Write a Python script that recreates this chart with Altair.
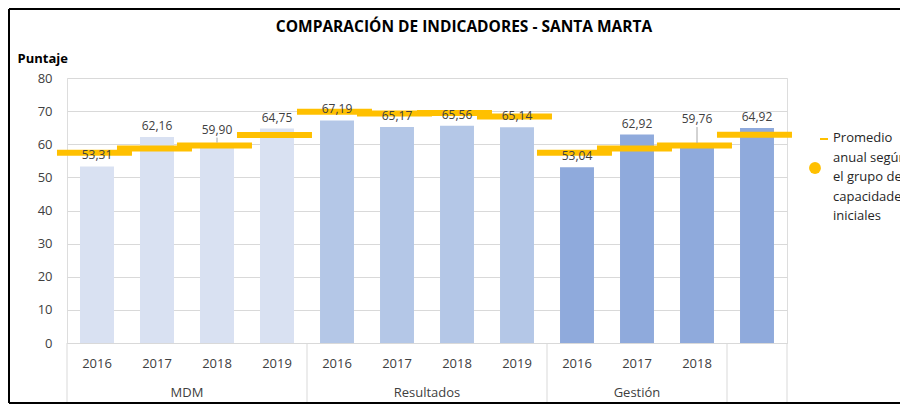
import altair as alt
import pandas as pd

# ---------------- data ----------------
groups = ["MDM"] * 4 + ["Resultados"] * 4 + ["Gestión"] * 4
years = ["2016", "2017", "2018", "2019",
         "2016", "2017", "2018", "2019",
         "2016", "2017", "2018", ""]
scores = [53.31, 62.16, 59.90, 64.75,
          67.19, 65.17, 65.56, 65.14,
          53.04, 62.92, 59.76, 64.92]
averages = [57.4, 58.7, 59.6, 62.8,
            69.8, 69.3, 69.4, 68.4,
            57.4, 58.7, 59.6, 62.9]
bracket_names = ["MDM", "Resultados", "Gestión", ""]
bracket_start = [0, 4, 8, 11]
bracket_end = [4, 8, 11, 12]
legend_lines = ["Promedio", "anual según", "el grupo de", "capacidades", "iniciales"]
title_text = "COMPARACIÓN DE INDICADORES - SANTA MARTA"
y_title = "Puntaje"
y_ticks = [0, 10, 20, 30, 40, 50, 60, 70, 80]

# styling
group_colors = ["#D9E1F2", "#B4C7E7", "#8FAADC"]
gold = "#FFC000"
grid = "#D9D9D9"
txt = "#404040"
FONT = "Open Sans"
label_lift = {2: 15, 10: 26}  # labels raised with a leader line (px)

df = pd.DataFrame({"i": list(range(len(scores))), "group": groups, "year": years,
                   "score": scores, "avg": averages})
df["label"] = [f"{v:.2f}".replace(".", ",") for v in scores]

br = pd.DataFrame({"name": bracket_names, "s": bracket_start, "e": bracket_end})
bounds = pd.DataFrame({"b": sorted(set(bracket_start + bracket_end))})

xs = alt.Scale(domain=[0, 12], nice=False, zero=False, padding=0)
ys = alt.Scale(domain=[0, 80], nice=False, zero=True, padding=0)
x_axis = alt.Axis(labels=False, ticks=False, grid=False, domain=True,
                  domainColor=grid, title=None)
y_axis = alt.Axis(values=y_ticks, grid=True, gridColor=grid, domain=False, ticks=False,
                  labelFontSize=13, labelColor=txt, labelPadding=15, labelFont=FONT,
                  labelOverlap=False,
                  title=y_title, titleAngle=0, titleX=-50, titleY=-20,
                  titleAlign="left", titleBaseline="middle", titleFontSize=13,
                  titleFontWeight="bold", titleColor="#000", titleFont=FONT)


def X(field):
    return alt.X(field, scale=xs, axis=x_axis)


def Y(field):
    return alt.Y(field, scale=ys, axis=y_axis)


base = alt.Chart(df).transform_calculate(
    x0="datum.i + 0.217", x1="datum.i + 0.783", xc="datum.i + 0.5",
    a0="datum.i - 0.167", a1="datum.i + 1.083")

bars = base.mark_bar(orient="vertical").encode(
    x=X("x0:Q"), x2="x1:Q",
    y=Y("score:Q"), y2=alt.datum(0),
    color=alt.Color("group:N", scale=alt.Scale(domain=["MDM", "Resultados", "Gestión"],
                                               range=group_colors), legend=None),
)

avg_lines = base.mark_rule(color=gold, strokeWidth=6).encode(
    x=X("a0:Q"), x2="a1:Q", y=Y("avg:Q"))

special = list(label_lift.keys())
normal_filter = " && ".join(f"datum.i != {k}" for k in special)
labels = base.transform_filter(normal_filter).mark_text(
    dy=-11, baseline="middle", fontSize=12, color=txt, font=FONT).encode(
    x=X("xc:Q"), y=Y("score:Q"), text="label:N")

layers = [bars, avg_lines, labels]
for k, lift in label_lift.items():
    sub = base.transform_filter(f"datum.i == {k}")
    layers.append(sub.mark_rule(color="#A6A6A6", strokeWidth=1,
                                yOffset=-(lift - 8), y2Offset=-2).encode(
        x=X("xc:Q"), y=Y("score:Q"), y2="score:Q"))
    layers.append(sub.mark_text(dy=-lift, baseline="middle", fontSize=12,
                                color=txt, font=FONT).encode(
        x=X("xc:Q"), y=Y("score:Q"), text="label:N"))

year_text = base.mark_text(fontSize=13, color=txt, font=FONT, baseline="middle").encode(
    x=X("xc:Q"), y=alt.value(286), text="year:N")

group_text = alt.Chart(br).transform_calculate(c="(datum.s + datum.e) / 2").mark_text(
    fontSize=13, color=txt, font=FONT, baseline="middle").encode(
    x=X("c:Q"), y=alt.value(315), text="name:N")

seps = alt.Chart(bounds).mark_rule(color=grid, strokeWidth=1).encode(
    x=X("b:Q"), y=alt.value(265), y2=alt.value(324))

one = alt.Chart(pd.DataFrame({"k": [0]}))
title_mark = one.mark_text(fontSize=15.5, fontWeight="bold", color="#000", font=FONT,
                           baseline="middle", align="center").encode(
    x=alt.value(397), y=alt.value(-51), text=alt.value(title_text))
leg_dash = one.mark_rule(color=gold, strokeWidth=2).encode(
    x=alt.value(753), x2=alt.value(761), y=alt.value(61))
leg_dot = one.mark_point(shape="circle", filled=True, size=140, color=gold, opacity=1).encode(
    x=alt.value(748), y=alt.value(90))
leg_text = one.mark_text(align="left", baseline="top", fontSize=13, color="#262626",
                         font=FONT, lineHeight=19.5, lineBreak="\n").encode(
    x=alt.value(766), y=alt.value(54), text=alt.value("\n".join(legend_lines)))

frame_top = one.mark_rule(color="#000", strokeWidth=2).encode(
    x=alt.value(-58), x2=alt.value(833), y=alt.value(-69))
frame_left = one.mark_rule(color="#000", strokeWidth=2).encode(
    x=alt.value(-58), y=alt.value(-69), y2=alt.value(325))
frame_bottom = one.mark_rule(color="#000", strokeWidth=2).encode(
    x=alt.value(-58), x2=alt.value(833), y=alt.value(325))

chart = alt.layer(*layers, year_text, group_text, seps, title_mark, leg_dash, leg_dot,
                  leg_text, frame_top, frame_left, frame_bottom).properties(
    width=720, height=265,
    padding={"left": 59, "top": 70, "right": 113, "bottom": 63},
    autosize=alt.AutoSizeParams(type="none"),
).configure_view(stroke=None).configure(font=FONT)

chart.save("out.html", embed_options={"renderer": "svg", "actions": False})
